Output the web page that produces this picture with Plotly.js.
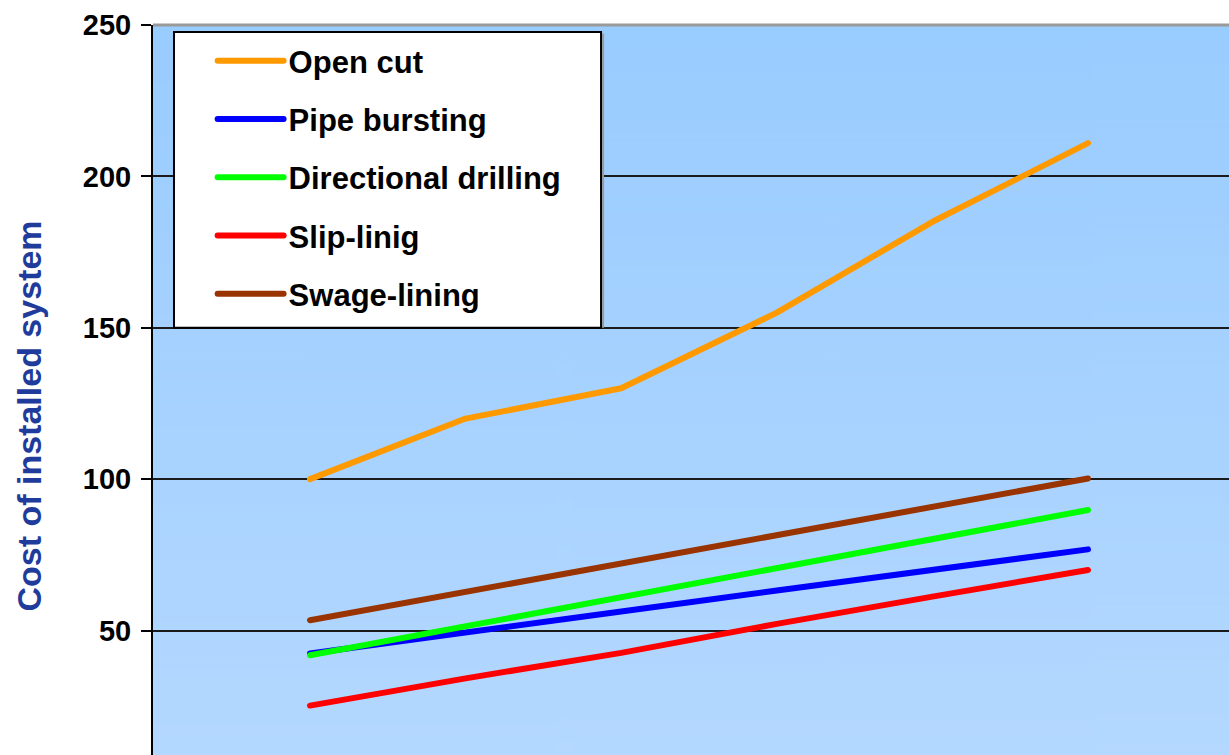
<!DOCTYPE html>
<html>
<head>
<meta charset="utf-8">
<script src="https://cdn.plot.ly/plotly-3.0.1.min.js"></script>
<style>
html,body{margin:0;padding:0;background:#fff;overflow:hidden;width:1229px;height:755px;}
#chart{width:1229px;height:807px;}
.js-line{stroke-linecap:round;stroke-linejoin:round;}
</style>
</head>
<body>
<div id="chart"></div>
<script>
// Data
const xPoints = [1, 2, 3, 4, 5, 6];
const seriesNames = ["Open cut", "Pipe bursting", "Directional drilling", "Slip-linig", "Swage-lining"];
const openCut = [100, 120, 130, 155, 185, 211];
const pipeBursting = [42.4, 49.5, 56.3, 63.2, 70, 76.8];
const directionalDrilling = [41.8, 51.4, 61, 70.6, 80.2, 89.8];
const slipLinig = [25.2, 34.2, 42.6, 52.2, 61.2, 70];
const swageLining = [53.4, 62.8, 72.2, 81.4, 90.8, 100.2];
const yTicks = [50, 100, 150, 200, 250];

const seriesValues = [openCut, pipeBursting, directionalDrilling, slipLinig, swageLining];
const seriesColors = ["#FF9900", "#0000FF", "#00FF00", "#FF0000", "#993300"];

// gradient background image
const cv = document.createElement('canvas');
cv.width = 4; cv.height = 400;
const ctx = cv.getContext('2d');
const g = ctx.createLinearGradient(0, 0, 0, 400);
g.addColorStop(0, '#99CCFF');
g.addColorStop(1, '#B6D9FF');
ctx.fillStyle = g;
ctx.fillRect(0, 0, 4, 400);
const bgUrl = cv.toDataURL('image/png');

const traces = seriesNames.map((name, i) => ({
  type: 'scatter',
  mode: 'lines',
  x: xPoints,
  y: seriesValues[i],
  name: name,
  legendgroup: 'g' + i,
  line: {color: seriesColors[i], width: 6},
  hoverinfo: 'skip'
}));

const font = "'Liberation Sans', Arial, sans-serif";

const layout = {
  width: 1229,
  height: 807,
  margin: {l: 153, r: 0, t: 25, b: 0},
  paper_bgcolor: '#FFFFFF',
  plot_bgcolor: 'rgba(0,0,0,0)',
  showlegend: true,
  legend: {
    x: 0.0554, y: 0.9885, xanchor: 'left', yanchor: 'top',
    bgcolor: 'rgba(0,0,0,0)', borderwidth: 0,
    font: {family: font, size: 31, weight: 'bold', color: '#000'},
    itemwidth: 66,
    tracegroupgap: 15
  },
  xaxis: {
    range: [-0.009, 6.906],
    showgrid: false, zeroline: false, showticklabels: false, ticks: '',
    showline: false, fixedrange: true
  },
  yaxis: {
    range: [-8.3, 250],
    tickvals: yTicks,
    ticks: 'outside', ticklen: 10, tickwidth: 2, tickcolor: '#000',
    showline: true, linecolor: '#000', linewidth: 2,
    showgrid: true, gridcolor: '#1a1a1a', gridwidth: 2,
    zeroline: false,
    tickfont: {family: font, size: 29, weight: 'bold', color: '#000'},
    ticklabelstandoff: 4,
    title: {text: 'Cost of installed system', font: {family: font, size: 34, weight: 'bold', color: '#1F3C9C'}, standoff: 31},
    fixedrange: true
  },
  images: [{
    source: bgUrl, xref: 'paper', yref: 'paper', x: 0, y: 1, sizex: 1, sizey: 1,
    xanchor: 'left', yanchor: 'top', sizing: 'stretch', layer: 'below'
  }],
  shapes: [
    {type: 'line', xref: 'paper', yref: 'paper', x0: 0, x1: 1, y0: 1, y1: 1, line: {color: '#9a9a9a', width: 3}},
    {type: 'rect', xref: 'paper', yref: 'y', x0: 0.0195, x1: 0.4164, y0: 150, y1: 247.7,
     fillcolor: '#FFFFFF', line: {color: '#000', width: 2}},
    {type: 'line', xref: 'paper', yref: 'y', x0: 0.4183, x1: 0.4183, y0: 150, y1: 247.2, line: {color: '#9a9a9a', width: 2}}
  ]
};

Plotly.newPlot('chart', traces, layout, {displayModeBar: false, staticPlot: true});
</script>
</body>
</html>
